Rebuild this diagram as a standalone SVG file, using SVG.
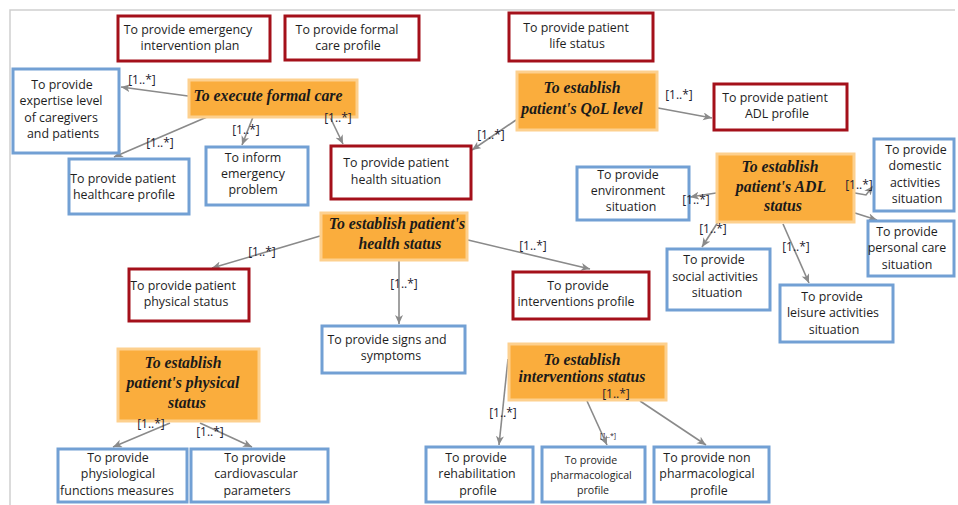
<svg xmlns="http://www.w3.org/2000/svg" width="958" height="505" viewBox="0 0 958 505">
  <defs>
    <marker id="arrow" markerUnits="userSpaceOnUse" markerWidth="10" markerHeight="9" refX="9" refY="4" orient="auto">
      <path d="M0,0 L9,4 L0,8 L2.5,4 z" fill="#8a8a8a"/>
    </marker>
  </defs>
  <style>
    .goal rect { fill: #faad3d; stroke: #fdd08e; stroke-width: 3; }
    .goal text { font-family: "Liberation Serif", serif; font-weight: bold; font-style: italic; font-size: 15.8px; fill: #1a1a1a; text-anchor: middle; }
    .red rect { fill: #ffffff; stroke: #a4101a; stroke-width: 3; }
    .blue rect { fill: #ffffff; stroke: #72a0d4; stroke-width: 3; }
    .red text, .blue text { font-family: "Open Sans", "DejaVu Sans", sans-serif; font-size: 12.4px; fill: #1e1e1e; text-anchor: middle; }
    .edge { stroke: #8a8a8a; stroke-width: 1.6; fill: none; marker-end: url(#arrow); }
    .mult { font-family: "Open Sans", "DejaVu Sans", sans-serif; font-size: 12px; fill: #1c2030; text-anchor: middle; }
    .frame { stroke: #cfcfcf; stroke-width: 1.5; fill: none; }
  </style>

  <rect width="958" height="505" fill="#ffffff"/>
  <path class="frame" d="M10,505 V10 H955"/>

  <!-- connectors -->
  <g id="connectors">
    <line class="edge" x1="188" y1="96" x2="121" y2="87"/>
    <line class="edge" x1="207" y1="117" x2="114" y2="157"/>
    <line class="edge" x1="253" y1="117" x2="242" y2="145"/>
    <line class="edge" x1="330" y1="117" x2="343" y2="144"/>
    <line class="edge" x1="516" y1="120" x2="472" y2="150"/>
    <line class="edge" x1="658" y1="108" x2="712" y2="118"/>
    <line class="edge" x1="716" y1="193" x2="690" y2="197"/>
    <polyline class="edge" points="855,193 866,195 873,186"/>
    <line class="edge" x1="855" y1="213" x2="877" y2="220"/>
    <line class="edge" x1="718" y1="222" x2="702" y2="247"/>
    <line class="edge" x1="783" y1="224" x2="809" y2="283"/>
    <line class="edge" x1="320" y1="236" x2="212" y2="268"/>
    <line class="edge" x1="399" y1="261" x2="399" y2="324"/>
    <line class="edge" x1="468" y1="240" x2="590" y2="269"/>
    <line class="edge" x1="170" y1="423" x2="113" y2="447"/>
    <line class="edge" x1="200" y1="423" x2="252" y2="447"/>
    <line class="edge" x1="508" y1="359" x2="499" y2="445"/>
    <line class="edge" x1="587" y1="401" x2="607" y2="445"/>
    <line class="edge" x1="640" y1="401" x2="706" y2="445"/>
  </g>

  <!-- information nodes (red) -->
  <g id="n-emergency-plan" class="red">
    <rect x="118" y="16" width="152" height="45"/>
    <text x="188" y="34">To provide emergency</text>
    <text x="190" y="50">intervention plan</text>
  </g>
  <g id="n-formal-care-profile" class="red">
    <rect x="285" y="16" width="134" height="44"/>
    <text x="347" y="34">To provide formal</text>
    <text x="348" y="50">care profile</text>
  </g>
  <g id="n-life-status" class="red">
    <rect x="509" y="13" width="144" height="48"/>
    <text x="576" y="32">To provide patient</text>
    <text x="577" y="48">life status</text>
  </g>
  <g id="n-adl-profile" class="red">
    <rect x="714" y="84" width="133" height="46"/>
    <text x="775" y="102">To provide patient</text>
    <text x="777" y="118">ADL profile</text>
  </g>
  <g id="n-health-situation" class="red">
    <rect x="331" y="146" width="140" height="53"/>
    <text x="396" y="167">To provide patient</text>
    <text x="396" y="184">health situation</text>
  </g>
  <g id="n-physical-status" class="red">
    <rect x="129" y="269" width="120" height="52"/>
    <text x="183" y="290">To provide patient</text>
    <text x="186" y="306">physical status</text>
  </g>
  <g id="n-interventions-profile" class="red">
    <rect x="513" y="272" width="136" height="47"/>
    <text x="578" y="290">To provide</text>
    <text x="576" y="306">interventions profile</text>
  </g>

  <!-- information nodes (blue) -->
  <g id="n-expertise" class="blue">
    <rect x="13" y="69" width="106" height="84"/>
    <text x="62" y="89">To provide</text>
    <text x="61" y="105">expertise level</text>
    <text x="61" y="122">of caregivers</text>
    <text x="63" y="138">and patients</text>
  </g>
  <g id="n-healthcare-profile" class="blue">
    <rect x="69" y="159" width="120" height="55"/>
    <text x="123" y="183">To provide patient</text>
    <text x="124" y="199">healthcare profile</text>
  </g>
  <g id="n-inform-emergency" class="blue">
    <rect x="206" y="147" width="102" height="58"/>
    <text x="253" y="162">To inform</text>
    <text x="253" y="178">emergency</text>
    <text x="253" y="194">problem</text>
  </g>
  <g id="n-signs" class="blue">
    <rect x="322" y="326" width="143" height="47"/>
    <text x="387" y="344">To provide signs and</text>
    <text x="391" y="360">symptoms</text>
  </g>
  <g id="n-environment" class="blue">
    <rect x="577" y="167" width="112" height="53"/>
    <text x="628" y="179">To provide</text>
    <text x="628" y="195">environment</text>
    <text x="631" y="211">situation</text>
  </g>
  <g id="n-domestic" class="blue">
    <rect x="874" y="139" width="80" height="72"/>
    <text x="916" y="154">To provide</text>
    <text x="915" y="170">domestic</text>
    <text x="915" y="187">activities</text>
    <text x="917" y="203">situation</text>
  </g>
  <g id="n-personal-care" class="blue">
    <rect x="868" y="221" width="86" height="55"/>
    <text x="907" y="236">To provide</text>
    <text x="907" y="252">personal care</text>
    <text x="907" y="269">situation</text>
  </g>
  <g id="n-social" class="blue">
    <rect x="667" y="249" width="103" height="61"/>
    <text x="714" y="264">To provide</text>
    <text x="715" y="281">social activities</text>
    <text x="717" y="297">situation</text>
  </g>
  <g id="n-leisure" class="blue">
    <rect x="780" y="285" width="113" height="57"/>
    <text x="832" y="301">To provide</text>
    <text x="833" y="317">leisure activities</text>
    <text x="834" y="334">situation</text>
  </g>
  <g id="n-physiological" class="blue">
    <rect x="58" y="449" width="129" height="53"/>
    <text x="118" y="462">To provide</text>
    <text x="118" y="478">physiological</text>
    <text x="117" y="495">functions measures</text>
  </g>
  <g id="n-cardiovascular" class="blue">
    <rect x="191" y="449" width="137" height="53"/>
    <text x="255" y="462">To provide</text>
    <text x="256" y="478">cardiovascular</text>
    <text x="257" y="495">parameters</text>
  </g>
  <g id="n-rehabilitation" class="blue">
    <rect x="426" y="447" width="107" height="55"/>
    <text x="476" y="462">To provide</text>
    <text x="477" y="478">rehabilitation</text>
    <text x="478" y="495">profile</text>
  </g>
  <g id="n-pharmacological" class="blue">
    <rect x="542" y="447" width="103" height="55"/>
    <text x="591" y="464" style="font-size:10.6px">To provide</text>
    <text x="591" y="479" style="font-size:10.6px">pharmacological</text>
    <text x="593" y="494" style="font-size:10.6px">profile</text>
  </g>
  <g id="n-non-pharmacological" class="blue">
    <rect x="654" y="447" width="115" height="55"/>
    <text x="707" y="462">To provide non</text>
    <text x="707" y="478">pharmacological</text>
    <text x="709" y="495">profile</text>
  </g>

  <!-- goal nodes (orange) -->
  <g id="g-formal-care" class="goal">
    <rect x="189" y="80" width="168" height="37"/>
    <text x="268" y="101">To execute formal care</text>
  </g>
  <g id="g-qol" class="goal">
    <rect x="517" y="72" width="140" height="58"/>
    <text x="582" y="93">To establish</text>
    <text x="582" y="114">patient's QoL level</text>
  </g>
  <g id="g-adl" class="goal">
    <rect x="717" y="154" width="137" height="68"/>
    <text x="780" y="172">To establish</text>
    <text x="781" y="192">patient's ADL</text>
    <text x="783" y="211">status</text>
  </g>
  <g id="g-health" class="goal">
    <rect x="321" y="213" width="146" height="47"/>
    <text x="397" y="229">To establish patient's</text>
    <text x="400" y="249">health status</text>
  </g>
  <g id="g-physical" class="goal">
    <rect x="118" y="349" width="141" height="72"/>
    <text x="183" y="368">To establish</text>
    <text x="183" y="388">patient's physical</text>
    <text x="187" y="408">status</text>
  </g>
  <g id="g-interventions" class="goal">
    <rect x="509" y="344" width="157" height="56"/>
    <text x="582" y="365">To establish</text>
    <text x="582" y="382">interventions status</text>
  </g>

  <!-- multiplicity labels -->
  <g id="multiplicities">
    <text class="mult" x="142" y="84">[1..*]</text>
    <text class="mult" x="160" y="147">[1..*]</text>
    <text class="mult" x="246" y="134">[1..*]</text>
    <text class="mult" x="338" y="122">[1..*]</text>
    <text class="mult" x="491" y="139">[1..*]</text>
    <text class="mult" x="679" y="99">[1..*]</text>
    <text class="mult" x="696" y="204">[1..*]</text>
    <text class="mult" x="859" y="189">[1..*]</text>
    <text class="mult" x="713" y="233">[1..*]</text>
    <text class="mult" x="796" y="251">[1..*]</text>
    <text class="mult" x="262" y="256">[1..*]</text>
    <text class="mult" x="404" y="288">[1..*]</text>
    <text class="mult" x="533" y="250">[1..*]</text>
    <text class="mult" x="151" y="428">[1..*]</text>
    <text class="mult" x="210" y="436">[1..*]</text>
    <text class="mult" x="503" y="417">[1..*]</text>
    <text class="mult" x="608" y="438" style="font-size:7px">[1..*]</text>
    <text class="mult" x="616" y="398">[1..*]</text>
  </g>
</svg>
